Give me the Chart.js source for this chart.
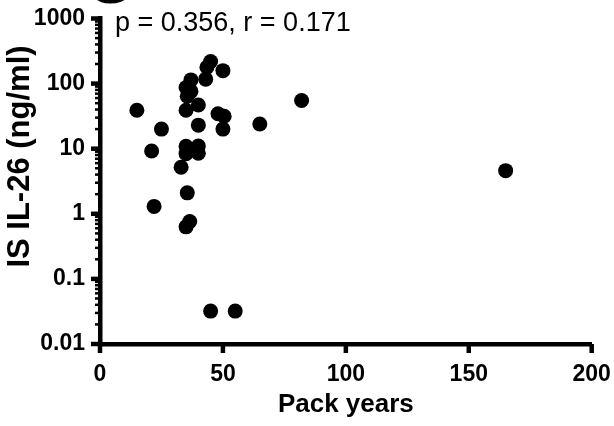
<!DOCTYPE html>
<html>
<head>
<meta charset="utf-8">
<script src="https://cdn.jsdelivr.net/npm/chart.js@4.4.1/dist/chart.umd.min.js"></script>
<style>
 body{margin:0;background:#fff;}
 #grafico{display:block;}
</style>
</head>
<body>
<canvas id="grafico" width="614" height="426"></canvas>
<script>
//Datos (pack years vs IS IL-26)
const packYears = [15, 25, 21, 45, 43.5, 50, 37, 43, 35, 37, 35.5, 40, 35, 48, 50.5, 40, 50, 65, 35, 40, 35, 40, 33, 82, 165, 35.5, 22, 36.5, 35, 45, 55];
const il26 = [39, 20, 9.2, 218, 178, 158, 114, 117, 87, 76, 64, 47, 39, 34.5, 31.5, 23, 20, 24, 10.9, 11, 8.4, 8.5, 5.2, 55, 4.6, 2.1, 1.3, 0.76, 0.63, 0.032, 0.032];
const xTicks = [0, 50, 100, 150, 200];
const yTicks = [0.01, 0.1, 1, 10, 100, 1000];
const yTickLabels = ['0.01', '0.1', '1', '10', '100', '1000'];
const tituloX = 'Pack years';
const tituloY = 'IS IL-26 (ng/ml)';
const anotacion = 'p = 0.356, r = 0.171';
const fuente = '"Liberation Sans", Arial, sans-serif';

//Armo los puntos del scatter
let puntos = [];
for (let i = 0; i < packYears.length; i++) {
 puntos.push({x: packYears[i], y: il26[i]});
}

//Plugin para las marcas de los ejes y los textos sueltos
const marcasEjes = {
 id: 'marcasEjes',
 afterDraw(chart) {
  const ctx = chart.ctx;
  const escX = chart.scales.x;
  const escY = chart.scales.y;
  const area = chart.chartArea;
  ctx.save();
  ctx.strokeStyle = '#000';
  ctx.fillStyle = '#000';
  //Marcas mayores y menores del eje Y
  for (let e = -2; e <= 3; e++) {
   for (let m = 1; m <= 9; m++) {
    const v = m * Math.pow(10, e);
    if (v > 1000) break;
    const py = escY.getPixelForValue(v);
    ctx.lineWidth = m === 1 ? 4.5 : 2.5;
    ctx.beginPath();
    ctx.moveTo(area.left - (m === 1 ? 9 : 5), py);
    ctx.lineTo(area.left, py);
    ctx.stroke();
   }
  }
  //Marcas del eje X
  ctx.lineWidth = 4.5;
  xTicks.forEach(v => {
   const px = escX.getPixelForValue(v);
   ctx.beginPath();
   ctx.moveTo(px, area.bottom);
   ctx.lineTo(px, area.bottom + 9);
   ctx.stroke();
  });
  //Anotacion de la correlacion
  ctx.font = '27px ' + fuente;
  ctx.textAlign = 'left';
  ctx.textBaseline = 'alphabetic';
  ctx.fillText(anotacion, 115, 30.5);
  //Letra del panel (cortada arriba)
  ctx.font = 'bold 60px ' + fuente;
  ctx.textAlign = 'center';
  ctx.fillText('G', 110, 2.5);
  //Titulo del eje Y
  ctx.font = 'bold 31px ' + fuente;
  ctx.translate(28.5, 156.5);
  ctx.rotate(-Math.PI / 2);
  ctx.textAlign = 'center';
  ctx.fillText(tituloY, 0, 0);
  ctx.restore();
 }
};

var canvas = document.getElementById('grafico');
let grafico = new Chart(canvas, {
 type: 'scatter',
 data: {
  datasets: [{
   data: puntos,
   backgroundColor: '#000',
   borderWidth: 0,
   pointRadius: 7.5,
   pointHoverRadius: 7.5
  }]
 },
 options: {
  responsive: false,
  animation: false,
  devicePixelRatio: 1,
  layout: {padding: {left: 0, top: 18.5, right: 22.3, bottom: 0}},
  plugins: {legend: {display: false}, tooltip: {enabled: false}},
  scales: {
   x: {
    type: 'linear', min: 0, max: 200,
    afterBuildTicks: s => { s.ticks = xTicks.map(v => ({value: v})); },
    afterFit: s => { s.height = 82; s.paddingLeft = 0; s.paddingRight = 0; },
    grid: {display: false, drawTicks: false},
    border: {display: true, color: '#000', width: 4.5},
    ticks: {color: '#000', padding: 17, maxRotation: 0, font: {family: fuente, size: 23, weight: 'bold'}},
    title: {display: true, text: tituloX, color: '#000', padding: {top: 0, bottom: 6}, font: {family: fuente, size: 26, weight: 'bold'}}
   },
   y: {
    type: 'logarithmic', min: 0.01, max: 1000,
    afterBuildTicks: s => { s.ticks = yTicks.map(v => ({value: v})); },
    afterFit: s => { s.width = 100; s.paddingTop = 0; s.paddingBottom = 0; },
    grid: {display: false, drawTicks: false},
    border: {display: true, color: '#000', width: 4.5},
    ticks: {
     color: '#000', padding: 15,
     font: {family: fuente, size: 23, weight: 'bold'},
     callback: v => { const k = yTicks.indexOf(v); return k >= 0 ? yTickLabels[k] : ''; }
    }
   }
  }
 },
 plugins: [marcasEjes]
});
</script>
</body>
</html>
